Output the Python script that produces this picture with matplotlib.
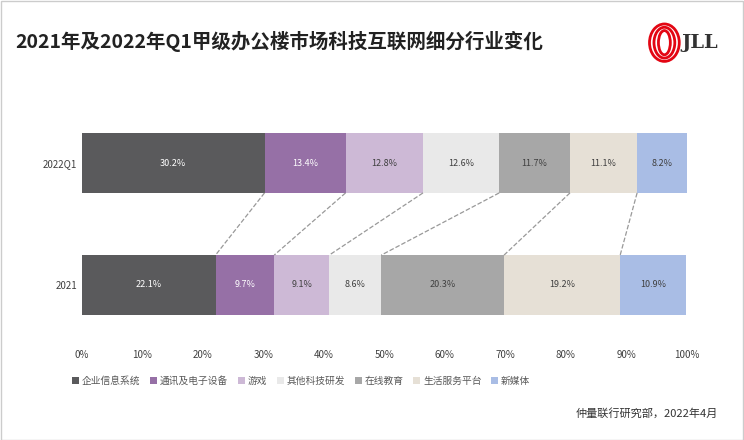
import matplotlib
matplotlib.use("Agg")
import matplotlib.pyplot as plt
from matplotlib import font_manager as fm
from matplotlib.patches import Rectangle, Ellipse
import numpy as np

cjk = [f.name for f in fm.fontManager.ttflist if 'CJK' in f.name]
pref = [n for n in ['Noto Sans CJK SC', 'Noto Sans CJK JP', 'Noto Sans CJK TC', 'Noto Sans CJK KR'] if n in cjk] or cjk
plt.rcParams['font.family'] = 'sans-serif'
plt.rcParams['font.sans-serif'] = pref[:1] + ['DejaVu Sans']

rows = ["2021", "2022Q1"]
categories = ["企业信息系统", "通讯及电子设备", "游戏", "其他科技研发", "在线教育", "生活服务平台", "新媒体"]
v2022 = [30.2, 13.4, 12.8, 12.6, 11.7, 11.1, 8.2]
v2021 = [22.1, 9.7, 9.1, 8.6, 20.3, 19.2, 10.9]
colors = ["#5a5a5c", "#9670a6", "#cdb9d6", "#e9e9e9", "#a7a7a7", "#e6e0d6", "#a9bde5"]
txtcol = ["white", "white", "#404040", "#404040", "#404040", "#404040", "#404040"]
xticks = [0, 10, 20, 30, 40, 50, 60, 70, 80, 90, 100]

fig = plt.figure(figsize=(7.44, 4.40), dpi=100)
ax = fig.add_axes([0.110, 0.216, 0.813, 0.511])
h = 0.49
data = {"2021": v2021, "2022Q1": v2022}
for yi, r in enumerate(rows):
    left = 0
    for i, v in enumerate(data[r]):
        ax.barh(yi, v, left=left, height=h, color=colors[i], edgecolor='none',
                label=categories[i] if yi == 0 else None)
        ax.text(left + v / 2, yi, f"{v}%", ha='center', va='center', fontsize=6.5, color=txtcol[i])
        left += v
c21 = np.cumsum(v2021)[:-1]
c22 = np.cumsum(v2022)[:-1]
for a, b in zip(c21, c22):
    ax.plot([b, a], [1 - h / 2, h / 2], ls='--', color='#999999', lw=0.9)
ax.set_xlim(0, 100)
ax.set_ylim(-0.492, 1.352)
ax.set_yticks([0, 1])
ax.set_yticklabels(rows, fontsize=7, color='#404040')
ax.set_xticks(xticks)
ax.set_xticklabels([f"{t}%" for t in xticks], fontsize=7, color='#404040')
ax.tick_params(length=0)
for s in ax.spines.values():
    s.set_visible(False)
ax.legend(loc='upper left', bbox_to_anchor=(-0.03, -0.1), ncol=7, frameon=False,
          fontsize=7, handlelength=0.7, handleheight=0.7, columnspacing=1.0, handletextpad=0.3,
          labelcolor='#595959')

fig.text(0.02, 0.905, "2021年及2022年Q1甲级办公楼市场科技互联网细分行业变化", fontsize=14,
         fontweight='bold', color='#222222', va='center')
fig.text(0.965, 0.903, "JLL", fontsize=14, fontweight='bold', color='#333333', ha='right', va='center',
         family='DejaVu Serif')
for k, w in enumerate([0.04, 0.028, 0.016]):
    fig.patches.append(Ellipse((0.893, 0.903), w, 0.085 - k * 0.015, transform=fig.transFigure,
                               fill=False, edgecolor='#e30613', lw=2))
fig.text(0.965, 0.06, "仲量联行研究部，2022年4月", fontsize=8, color='#333333', ha='right', va='center')
fig.patches.append(Rectangle((0.001, 0.001), 0.997, 0.997, transform=fig.transFigure,
                             fill=False, edgecolor='#cccccc', lw=1))
fig.savefig("out.png", dpi=100)
